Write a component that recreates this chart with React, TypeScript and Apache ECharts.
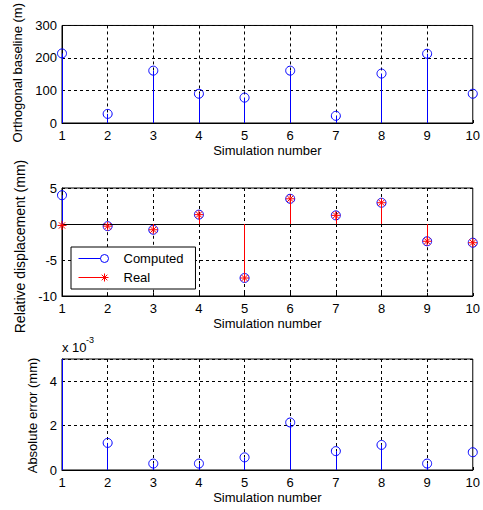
import React, { useEffect, useRef } from "react";
import * as echarts from "echarts";

const simulations = [1, 2, 3, 4, 5, 6, 7, 8, 9, 10];
const orthogonalBaseline = [214, 28, 161, 90, 78, 161, 22, 152, 213, 90];
const computedDisp = [4.0, -0.3, -0.8, 1.3, -7.5, 3.5, 1.2, 2.95, -2.4, -2.6];
const realDisp = [-0.2, -0.3, -0.8, 1.3, -7.5, 3.5, 1.2, 2.95, -2.4, -2.6];
const absError = [6.0, 1.22, 0.29, 0.29, 0.57, 2.14, 0.85, 1.13, 0.29, 0.8];

const xTicks = { min: 1, max: 10, interval: 1 };
const xTickValues = [2, 3, 4, 5, 6, 7, 8, 9];
const yTicksBaseline = { min: 0, max: 300, interval: 100 };
const yTicksDisp = { min: -10, max: 5, interval: 5 };
const yTicksError = { min: 0, max: 5, interval: 2 };

const BLUE = "#0000ff";
const RED = "#ff0000";
const FONT = "'Liberation Sans', Arial, sans-serif";
const STAR = "path://M0,5L10,5M5,0L5,10M1.5,1.5L8.5,8.5M8.5,1.5L1.5,8.5";
const ICON_COMPUTED = "path://M0,4L22,4M30,4A4,4 0 1 1 22,4A4,4 0 1 1 30,4";
const ICON_REAL = "path://M0,4L30,4M26,0L26,8M23.2,1.2L28.8,6.8M28.8,1.2L23.2,6.8";

const pairs = (vals: number[]) => simulations.map((s, i) => [s, vals[i]]);

const snap = (p: number) => {
  const d = Math.round(p * 2);
  return d % 2 ? d / 2 : (d + 1) / 2;
};

const stemRender = (color: string) => (params: any, api: any) => {
  const x = api.value(0);
  const v = api.value(1);
  const p0 = api.coord([x, 0]);
  const p1 = api.coord([x, v]);
  const cs = params.coordSys;
  const y2 = Math.max(cs.y, Math.min(cs.y + cs.height, p1[1]));
  const sx = snap(p0[0]);
  return {
    type: "line",
    shape: { x1: sx, y1: p0[1], x2: sx, y2 },
    style: { stroke: color, lineWidth: 1 },
  };
};

// vertical dashed grid lines, left out where a stem already covers them
const gridLineRender = (params: any, api: any) => {
  const x = api.value(0);
  const lo = api.value(1);
  const hi = api.value(2);
  const cs = params.coordSys;
  const sx = snap(api.coord([x, 0])[0]);
  const yTop = Math.max(cs.y, api.coord([x, hi])[1]);
  const yBot = Math.min(cs.y + cs.height, api.coord([x, lo])[1]);
  const dash = { stroke: "#000", lineWidth: 1, lineDash: [3, 3] };
  const children: any[] = [];
  if (yTop > cs.y) children.push({ type: "line", shape: { x1: sx, y1: cs.y, x2: sx, y2: yTop }, style: dash });
  if (yBot < cs.y + cs.height) children.push({ type: "line", shape: { x1: sx, y1: yBot, x2: sx, y2: cs.y + cs.height }, style: dash });
  return { type: "group", children };
};

const grids = [
  { left: 62, top: 15, width: 411, height: 108 },
  { left: 62, top: 188, width: 411, height: 108 },
  { left: 62, top: 359, width: 411, height: 111 },
];

const labelStyle = { fontSize: 13, color: "#000", fontFamily: FONT };

function makeX(gridIndex: number) {
  return {
    type: "value",
    gridIndex,
    ...xTicks,
    name: "Simulation number",
    nameLocation: "middle",
    nameGap: 21,
    nameTextStyle: labelStyle,
    axisLine: { show: true, onZero: false, lineStyle: { color: "#000", width: 1 } },
    axisTick: { show: true, inside: true, length: 3, lineStyle: { color: "#000" } },
    axisLabel: { ...labelStyle, margin: 6 },
    splitLine: { show: false },
  };
}

function makeY(gridIndex: number, ticks: any, name: string, nameOpts: any, extra: any = {}) {
  return {
    type: "value",
    gridIndex,
    ...ticks,
    name,
    nameLocation: "middle",
    nameGap: nameOpts.gap,
    nameTextStyle: { fontSize: nameOpts.size, color: "#000", fontFamily: FONT, padding: nameOpts.padding },
    axisLine: { show: true, onZero: false, lineStyle: { color: "#000", width: 1 } },
    axisTick: { show: true, inside: true, length: 3, lineStyle: { color: "#000" } },
    axisLabel: { ...labelStyle, margin: 5, ...extra },
    splitLine: { show: true, lineStyle: { color: "#000", type: [3, 3], width: 1 } },
  };
}

function gridLineSeries(idx: number, valueSets: number[][]) {
  const data = xTickValues.map((t) => {
    const i = simulations.indexOf(t);
    const vs = valueSets.map((vals) => vals[i]);
    return [t, Math.min(0, ...vs), Math.max(0, ...vs)];
  });
  return {
    type: "custom",
    name: "xgrid" + idx,
    xAxisIndex: idx,
    yAxisIndex: idx,
    silent: true,
    renderItem: gridLineRender,
    encode: { x: 0, y: [1, 2] },
    data,
    z: 1,
  };
}

function stemSeries(name: string, idx: number, vals: number[], color: string, extra: any = {}) {
  return {
    type: "custom",
    name,
    xAxisIndex: idx,
    yAxisIndex: idx,
    clip: true,
    renderItem: stemRender(color),
    encode: { x: 0, y: 1 },
    data: pairs(vals),
    z: 3,
    ...extra,
  };
}

function markerSeries(name: string, idx: number, vals: number[], color: string, symbol: string, z: number) {
  return {
    type: "line",
    name,
    xAxisIndex: idx,
    yAxisIndex: idx,
    data: pairs(vals),
    symbol,
    symbolSize: 9,
    showAllSymbol: true,
    clip: true,
    lineStyle: { width: 0, opacity: 0 },
    itemStyle: { color: "rgba(0,0,0,0)", borderColor: color, borderWidth: 1 },
    z,
  };
}

export default function App() {
  const ref = useRef<HTMLDivElement>(null);
  useEffect(() => {
    if (!ref.current) return;
    const chart = echarts.init(ref.current, undefined, { renderer: "svg" });
    chart.setOption({
      animation: false,
      backgroundColor: "#fff",
      textStyle: { fontFamily: FONT },
      grid: grids.map((g) => ({ ...g, show: true, borderColor: "#000", borderWidth: 1, backgroundColor: "transparent" })),
      xAxis: [makeX(0), makeX(1), makeX(2)],
      yAxis: [
        makeY(0, yTicksBaseline, "Orthogonal baseline (m)", { gap: 33, size: 13, padding: [0, 0, 0, 3] }),
        makeY(1, yTicksDisp, "Relative displacement (mm)", { gap: 30, size: 14, padding: [0, 9, 0, 0] }),
        makeY(2, yTicksError, "Absolute error (mm)", { gap: 19, size: 13, padding: [0, 2, 0, 0] }, { showMaxLabel: false }),
      ],
      legend: {
        show: true,
        orient: "vertical",
        left: 71,
        top: 247,
        backgroundColor: "#fff",
        borderColor: "#000",
        borderWidth: 1,
        borderRadius: 0,
        padding: [5, 12, 5, 7],
        itemWidth: 30,
        itemHeight: 8,
        itemGap: 6,
        selectedMode: false,
        textStyle: { ...labelStyle, padding: [0, 0, 0, 10] },
        data: [
          { name: "Computed", icon: ICON_COMPUTED, itemStyle: { color: "rgba(0,0,0,0)", borderColor: BLUE, borderWidth: 1 } },
          { name: "Real", icon: ICON_REAL, itemStyle: { color: "rgba(0,0,0,0)", borderColor: RED, borderWidth: 1 } },
        ],
      },
      graphic: [
        { type: "text", left: 62, top: 341, style: { text: "x 10", fontSize: 13, fill: "#000", fontFamily: FONT } },
        { type: "text", left: 86, top: 335, style: { text: "-3", fontSize: 9, fill: "#000", fontFamily: FONT } },
      ],
      series: [
        gridLineSeries(0, [orthogonalBaseline]),
        gridLineSeries(1, [computedDisp, realDisp]),
        gridLineSeries(2, [absError]),
        stemSeries("baselineStem", 0, orthogonalBaseline, BLUE),
        markerSeries("Orthogonal baseline", 0, orthogonalBaseline, BLUE, "circle", 4),
        stemSeries("computedStem", 1, computedDisp, BLUE),
        markerSeries("Computed", 1, computedDisp, BLUE, "circle", 4),
        stemSeries("realStem", 1, realDisp, RED, {
          z: 5,
          markLine: {
            silent: true,
            symbol: "none",
            label: { show: false },
            lineStyle: { color: "#000", type: "solid", width: 1 },
            data: [{ yAxis: 0 }],
          },
        }),
        markerSeries("Real", 1, realDisp, RED, STAR, 6),
        stemSeries("errorStem", 2, absError, BLUE),
        markerSeries("Absolute error", 2, absError, BLUE, "circle", 4),
      ],
    });
    return () => chart.dispose();
  }, []);
  return <div ref={ref} style={{ position: "fixed", left: 0, top: 0, width: 483, height: 510 }} />;
}
